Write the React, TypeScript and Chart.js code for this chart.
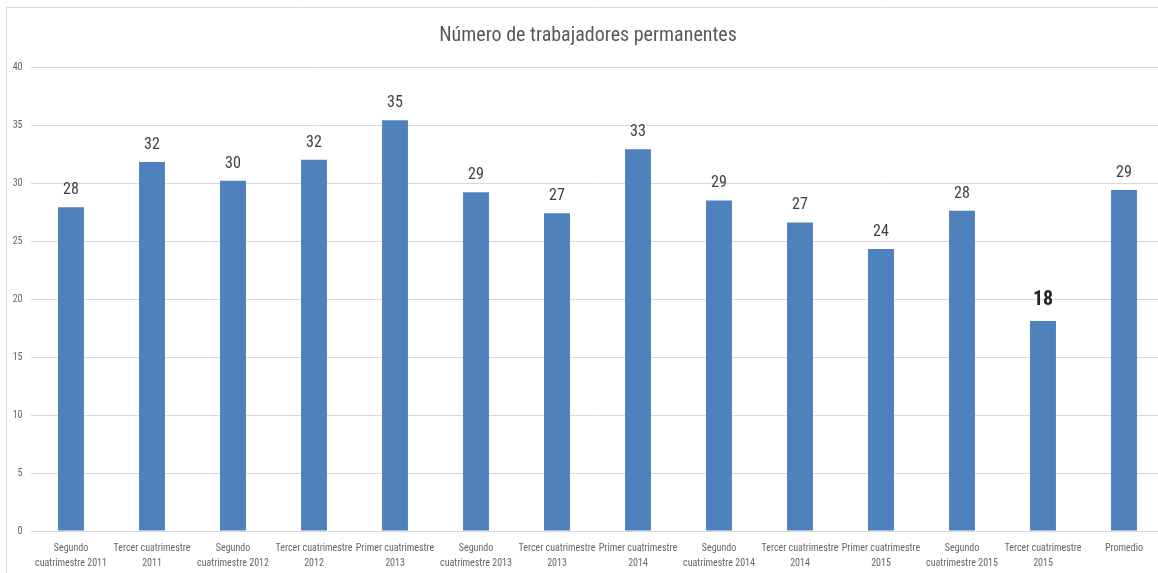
import React, { useEffect, useRef } from "react";
import { Chart, registerables } from "chart.js";

Chart.register(...registerables);

const TITLE = "Número de trabajadores permanentes";

const categories: string[][] = [
  ["Segundo", "cuatrimestre 2011"],
  ["Tercer cuatrimestre", "2011"],
  ["Segundo", "cuatrimestre 2012"],
  ["Tercer cuatrimestre", "2012"],
  ["Primer cuatrimestre", "2013"],
  ["Segundo", "cuatrimestre 2013"],
  ["Tercer cuatrimestre", "2013"],
  ["Primer cuatrimestre", "2014"],
  ["Segundo", "cuatrimestre 2014"],
  ["Tercer cuatrimestre", "2014"],
  ["Primer cuatrimestre", "2015"],
  ["Segundo", "cuatrimestre 2015"],
  ["Tercer cuatrimestre", "2015"],
  ["Promedio"],
];

const workers: number[] = [27.9, 31.8, 30.2, 32.0, 35.4, 29.2, 27.4, 32.9, 28.5, 26.6, 24.3, 27.6, 18.1, 29.4];

const yTicks: number[] = [0, 5, 10, 15, 20, 25, 30, 35, 40];

const highlightIndex = 12;

const FONT = "'Liberation Sans Narrow', 'Roboto Condensed', 'Liberation Sans', sans-serif";

export default function App() {
  const canvasRef = useRef<HTMLCanvasElement | null>(null);

  useEffect(() => {
    document.body.style.margin = "0";
    const canvas = canvasRef.current;
    if (!canvas) return;

    const framePlugin = {
      id: "frame",
      beforeDraw(chart: any) {
        const ctx = chart.ctx;
        ctx.save();
        ctx.fillStyle = "#ffffff";
        ctx.fillRect(0, 0, chart.width, chart.height);
        ctx.strokeStyle = "#d9d9d9";
        ctx.lineWidth = 1;
        ctx.beginPath();
        ctx.moveTo(6.5, chart.height + 5);
        ctx.lineTo(6.5, 7.5);
        ctx.lineTo(chart.width + 5, 7.5);
        ctx.stroke();
        ctx.fillStyle = "#595959";
        ctx.font = `20px ${FONT}`;
        ctx.textAlign = "center";
        ctx.textBaseline = "middle";
        ctx.fillText(TITLE, 588, 36);
        ctx.restore();
      },
    };

    const labelPlugin = {
      id: "barLabels",
      afterDatasetsDraw(chart: any) {
        const ctx = chart.ctx;
        const meta = chart.getDatasetMeta(0);
        ctx.save();
        ctx.textAlign = "center";
        ctx.textBaseline = "middle";
        meta.data.forEach((bar: any, i: number) => {
          const v = workers[i];
          const hl = i === highlightIndex;
          ctx.fillStyle = hl ? "#262626" : "#404040";
          ctx.font = hl ? `bold 20px ${FONT}` : `16px ${FONT}`;
          ctx.fillText(String(Math.round(v)), bar.x, bar.y - (hl ? 21 : 17));
        });
        ctx.restore();
      },
    };

    const chart = new Chart(canvas, {
      type: "bar",
      data: {
        labels: categories,
        datasets: [
          {
            data: workers,
            backgroundColor: "#4F81BD",
            borderWidth: 0,
            categoryPercentage: 1,
            barPercentage: 0.32,
          },
        ],
      },
      options: {
        animation: false,
        responsive: false,
        maintainAspectRatio: false,
        devicePixelRatio: 1,
        layout: { padding: { top: 67, left: 0, right: 15.5, bottom: 0 } },
        plugins: {
          legend: { display: false },
          title: { display: false },
          tooltip: { enabled: false },
        },
        scales: {
          x: {
            grid: { display: false, drawTicks: false },
            border: { display: false },
            ticks: {
              color: "#666666",
              font: { family: FONT, size: 10, lineHeight: 1.5 } as any,
              padding: 10,
              maxRotation: 0,
              minRotation: 0,
              autoSkip: false,
            },
            afterFit(scale: any) {
              scale.height = 42;
            },
          },
          y: {
            min: 0,
            max: 40,
            afterBuildTicks(scale: any) {
              scale.ticks = yTicks.map((v) => ({ value: v }));
            },
            grid: { color: "#d9d9d9", drawTicks: false, lineWidth: 1 },
            border: { display: false },
            ticks: {
              color: "#666666",
              font: { family: FONT, size: 10 },
              padding: 8,
            },
            afterFit(scale: any) {
              scale.width = 30.5;
            },
          },
        },
      },
      plugins: [framePlugin, labelPlugin],
    });

    return () => chart.destroy();
  }, []);

  return (
    <div style={{ position: "absolute", left: 0, top: 0, width: 1158, height: 573, overflow: "hidden", background: "#fff" }}>
      <canvas ref={canvasRef} width={1180} height={573} style={{ display: "block" }} />
    </div>
  );
}
